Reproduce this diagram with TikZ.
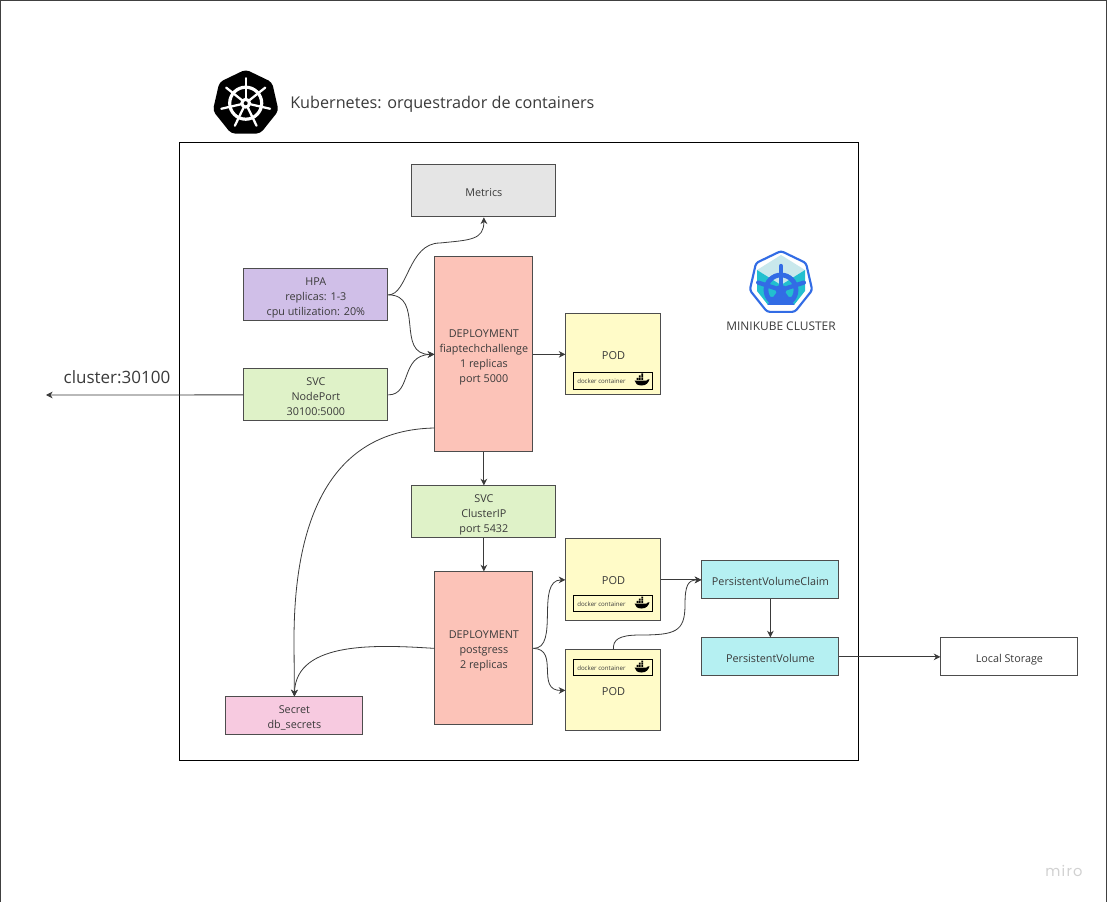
\documentclass[tikz,border=0pt]{standalone}
\usepackage{fontspec}
\setmainfont{Open Sans}
\newfontfamily\mirofont[LetterSpace=8]{Poppins}
\usetikzlibrary{arrows.meta}
\definecolor{inkc}{HTML}{3A3A3A}
\definecolor{boxc}{HTML}{4D4D4D}
\tikzset{
  x=0.75pt,y=-0.75pt,
  base/.style={draw=boxc,line width=0.7pt,inner sep=0pt,align=center,text=inkc,
    font=\fontsize{8.1}{11.25}\selectfont},
  metricsbox/.style={base,fill=black!10},
  hpabox/.style={base,fill=hpac},
  svcbox/.style={base,fill=svcc},
  depbox/.style={base,fill=depc},
  podbox/.style={base,fill=podc},
  pvbox/.style={base,fill=pvc},
  secretbox/.style={base,fill=secc},
  plainbox/.style={base,fill=white},
  dockerbox/.style={draw=black,line width=0.6pt,inner sep=0pt,fill=podc},
  dockertext/.style={inner sep=0pt,text=inkc,font=\fontsize{4.6}{5}\selectfont},
  podtext/.style={inner sep=0pt,text=inkc,font=\fontsize{8.25}{11.25}\selectfont},
  wire/.style={draw=inkc,line width=0.6pt,-{Stealth[length=5pt,width=5pt]}},
}
\definecolor{hpac}{HTML}{D0BFE8}
\definecolor{svcc}{HTML}{DFF2C8}
\definecolor{depc}{HTML}{FCC3B8}
\definecolor{podc}{HTML}{FFFBC8}
\definecolor{pvc}{HTML}{B5F0F2}
\definecolor{secc}{HTML}{F7CAE0}
\definecolor{mkblue}{HTML}{326CE5}
\definecolor{mklight}{HTML}{C9E8EC}
\definecolor{mkteal}{HTML}{22BFCF}
\newcommand{\boxat}[7]{\node[#2,minimum width=#5*0.75pt-#3*0.75pt,minimum height=#6*0.75pt-#4*0.75pt,anchor=north west] (#1) at (#3-0.6,#4-0.6) {\rule{0pt}{10.3pt}#7\rule[-2pt]{0pt}{2pt}};}
\newcommand{\whale}[2]{%
  \begin{scope}[shift={(#1,#2)}]
    \fill[black] (-7,0) -- (5,0) .. controls (6,-1) and (7,-1.5) .. (8,-1.2) .. controls (7,2) and (5,5) .. (0,5) .. controls (-4,5) and (-6.5,3) .. (-7,0) -- cycle;
    \fill[black] (-5,-2.6) rectangle (-3.2,-0.6) (-2.6,-2.6) rectangle (-0.8,-0.6) (-0.2,-2.6) rectangle (1.6,-0.6) (-2.6,-5) rectangle (-0.8,-3.1) (-0.2,-5) rectangle (1.6,-3.1) (-0.2,-7) rectangle (1.6,-5.4);
  \end{scope}}
\begin{document}
\begin{tikzpicture}
\useasboundingbox (0,0) rectangle (1107,902);
\draw[black!75,line width=0.75pt] (0.5,902) -- (0.5,0.5) -- (1106.5,0.5) -- (1106.5,902);
\draw[black,line width=0.75pt,fill=white] (179.5,142.5) rectangle (858.5,760.5);
% kubernetes logo
\begin{scope}[shift={(245.7,103.2)}]
  \fill[black,rounded corners=3pt] (-90:33.7) -- (-38.57:33.7) -- (12.86:33.7) -- (64.29:33.7) -- (115.71:33.7) -- (167.14:33.7) -- (218.57:33.7) -- cycle;
  \draw[white,line width=2.4pt] (0,0) circle (16);
  \foreach \k in {0,...,6} {
    \draw[white,line width=1.7pt,line cap=round] (0,0) -- (-90+\k*51.4286:25);
  }
  \fill[white] (0,0) circle (5.5);
  \fill[black] (0,0) circle (2);
\end{scope}
\node[inner sep=0pt,anchor=west,text=inkc,font=\fontsize{12.15}{15}\selectfont] (title) at (290,104) {Kubernetes: orquestrador de containers};
% minikube logo
\begin{scope}[shift={(781,283)}]
  \fill[white] (0,0) circle (30);
  \fill[mklight] (0,-28) -- (24,-13) -- (0,2) -- (-24,-13) -- cycle;
  \fill[mkteal] (-24,-13) -- (0,2) -- (0,22) -- (-13,22) -- (-24,8) -- cycle;
  \fill[mkteal] (24,-13) -- (0,2) -- (0,22) -- (13,22) -- (24,8) -- cycle;
  \begin{scope}
    \clip (-30,-30) rectangle (30,22);
    \draw[mkblue,line width=3.6pt] (0,7) circle (15);
    \fill[mkblue] (0,7) circle (5.5);
    \foreach \a in {-90,-18,-162,54,126,90} {
      \draw[mkblue,line width=3.2pt,line cap=round] (0,7) -- ++(\a:24);
    }
    \fill[mkblue] (-13,14) -- (13,14) -- (10,22) -- (-10,22) -- cycle;
  \end{scope}
  \draw[mkblue,line width=1.6pt,line join=round,rounded corners=2pt] (-90:32) -- (-38.57:32) -- (12.86:32) -- (64.29:32) -- (115.71:32) -- (167.14:32) -- (218.57:32) -- cycle;
\end{scope}
\node[inner sep=0pt,text=inkc,font=\fontsize{8.95}{11}\selectfont] (mklabel) at (781,326.5) {MINIKUBE CLUSTER};
% boxes
\boxat{metrics}{metricsbox}{412}{165}{556}{217}{Metrics}
\boxat{hpa}{hpabox}{244}{269}{388}{321}{HPA\\replicas: 1-3\\cpu utilization: 20\%}
\boxat{nodeport}{svcbox}{244}{369}{388}{421}{SVC\\NodePort\\30100:5000}
\boxat{depa}{depbox}{435}{257}{533}{452}{DEPLOYMENT\\fiaptechchallenge\\1 replicas\\port 5000}
\boxat{poda}{podbox}{566}{314}{661}{395}{}
\boxat{clusterip}{svcbox}{412}{486}{556}{538}{SVC\\ClusterIP\\port 5432}
\boxat{depb}{depbox}{435}{572}{533}{725}{DEPLOYMENT\\postgress\\2 replicas}
\boxat{podb}{podbox}{566}{539}{661}{621}{}
\boxat{podc}{podbox}{566}{650}{661}{731}{}
\boxat{pvclaim}{pvbox}{702}{561}{839}{599}{PersistentVolumeClaim}
\boxat{pvol}{pvbox}{702}{638}{839}{676}{PersistentVolume}
\boxat{storage}{plainbox}{941}{638}{1078}{676}{Local Storage}
\boxat{secret}{secretbox}{226}{697}{363}{735}{Secret\\db\_secrets}
% pod contents
\node[podtext] (podatext) at (613.5,355.8) {POD};
\node[podtext] (podbtext) at (613.5,580.8) {POD};
\node[podtext] (podctext) at (613.5,691.8) {POD};
\boxat{dockera}{dockerbox}{574}{373}{653}{388}{}
\boxat{dockerb}{dockerbox}{574}{595.5}{653}{611.5}{}
\boxat{dockerc}{dockerbox}{574}{659.5}{653}{675.5}{}
\node[dockertext,anchor=west] (dockeratext) at (577,381) {docker container};
\node[dockertext,anchor=west] (dockerbtext) at (577,604) {docker container};
\node[dockertext,anchor=west] (dockerctext) at (577,668) {docker container};
\whale{641.5}{380.5}
\whale{641.5}{603.5}
\whale{641.5}{667.5}
% labels and free ends
\node[inner sep=0pt,text=inkc,font=\fontsize{12.75}{15}\selectfont] (clusterlabel) at (117,377.5) {cluster:30100};
\coordinate (out) at (46,395);
\node[inner sep=0pt,text=black!18,font=\mirofont\fontsize{11}{12}\selectfont] (miro) at (1064,871) {miro};
% connectors
\draw[wire] (hpa.east) .. controls (408,295) and (408,243) .. (440,243) .. controls (470,240) and (484,240) .. (metrics.south);
\draw[wire] (hpa.east) .. controls (425,295) and (395,355) .. (depa.west);
\draw[wire] (nodeport.east) .. controls (412,395) and (400,355) .. (depa.west);
\draw[wire] (nodeport.west) -- (out);
\draw[wire] (depa.east) -- (poda.west);
\draw[wire] (depa.south) -- (clusterip.north);
\draw[wire] (clusterip.south) -- (depb.north);
\draw[wire] (depa.west |- 0,428) .. controls (330,430) and (294,520) .. (294,640) -- (secret.north);
\draw[wire] (depb.west) .. controls (380,645) and (296,640) .. (secret.north);
\draw[wire] (depb.east) .. controls (560,649) and (535,580) .. (podb.west);
\draw[wire] (depb.east) .. controls (560,649) and (535,691) .. (podc.west);
\draw[wire] (podb.east) -- (pvclaim.west);
\draw[wire] (podc.north) .. controls (613,640) and (618,635) .. (640,635) .. controls (675,635) and (685,632) .. (685,605) .. controls (685,585) and (688,580) .. (pvclaim.west);
\draw[wire] (pvclaim.south) -- (pvol.north);
\draw[wire] (pvol.east) -- (storage.west);
\end{tikzpicture}
\end{document}
